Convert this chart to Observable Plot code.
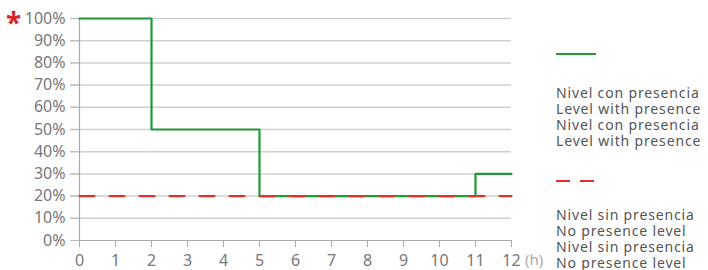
<!DOCTYPE html>
<html><head><meta charset="utf-8">
<script src="https://cdn.jsdelivr.net/npm/d3@7"></script>
<script src="https://cdn.jsdelivr.net/npm/@observablehq/plot@0.6"></script>
<style>
body{margin:0;background:#fff;font-family:"Noto Sans",sans-serif;}
#wrap{position:relative;width:708px;height:270px;overflow:hidden;}
#chart{position:absolute;left:0;top:0;}
.legtxt{position:absolute;left:556px;font-size:14px;line-height:16px;color:#555;white-space:nowrap;letter-spacing:0.85px;}
#ast{position:absolute;left:6px;top:8px;color:#d7262b;font-size:28px;font-weight:bold;line-height:28px;}
#unit{position:absolute;left:525px;top:249px;font-size:15px;color:#aaa;}
</style></head>
<body><div id="wrap"><div id="chart"></div><div id="ast">*</div><div id="unit">(h)</div>
<svg id="legsvg" width="708" height="270" style="position:absolute;left:0;top:0;pointer-events:none"></svg>
<div class="legtxt" style="top:85px">Nivel con presencia<br>Level with presence<br>Nivel con presencia<br>Level with presence</div>
<div class="legtxt" style="top:207px">Nivel sin presencia<br>No presence level<br>Nivel sin presencia<br>No presence level</div>
</div>
<script>
const hours = [0, 2, 5, 11, 12];
const presenceLevel = [1.0, 0.5, 0.2, 0.3, 0.3];
const noPresenceHours = [0, 12];
const noPresenceLevel = [0.2, 0.2];
const xTicks = [0,1,2,3,4,5,6,7,8,9,10,11,12];
const yTicks = [0,0.1,0.2,0.3,0.4,0.5,0.6,0.7,0.8,0.9,1.0];
const green = "#23993c", red = "#e5312b";

const pres = hours.map((h,i)=>({h, v: presenceLevel[i]}));
const nopres = noPresenceHours.map((h,i)=>({h, v: noPresenceLevel[i]}));

const chart = Plot.plot({
  width: 530, height: 270,
  marginLeft: 79, marginRight: 19, marginTop: 18, marginBottom: 30,
  style: {fontFamily: '"Noto Sans",sans-serif', fontSize: "16px", color: "#777", background: "transparent"},
  x: {domain: [0,12], ticks: xTicks, label: null},
  y: {domain: [0,1], ticks: yTicks, tickFormat: d => Math.round(d*100)+"%", label: null},
  marks: [
    Plot.ruleY(yTicks.filter(d=>d>0), {x1: -0.25, x2: 12, stroke: "#d0d0d0", strokeWidth: 1.5, clip: false}),
    Plot.axisY({ticks: yTicks, tickSize: 9, tickPadding: 5, stroke: "#bbb", tickFormat: d => Math.round(d*100)+"%", fill:"#777", fontSize: 16, label: null}),
    Plot.axisX({ticks: xTicks, tickSize: 7, tickPadding: 7, stroke: "#aaa", fill:"#777", fontSize: 16, label: null}),
    Plot.ruleY([0], {stroke: "#aaa", strokeWidth: 1.2}),
    Plot.ruleX([0], {stroke: "#aaa", strokeWidth: 1.2}),
    Plot.lineY(pres, {x: "h", y: "v", curve: "step-after", stroke: green, strokeWidth: 2.2}),
    Plot.lineY(nopres, {x: "h", y: "v", stroke: red, strokeWidth: 2.2, strokeDasharray: "15,15"})
  ]
});
document.getElementById("chart").appendChild(chart);

const s = d3.select("#legsvg");
s.append("line").attr("x1",556).attr("x2",596).attr("y1",54).attr("y2",54).attr("stroke",green).attr("stroke-width",2.2);
s.append("line").attr("x1",556).attr("x2",596).attr("y1",181).attr("y2",181).attr("stroke",red).attr("stroke-width",2.2).attr("stroke-dasharray","14,10");
</script></body></html>
